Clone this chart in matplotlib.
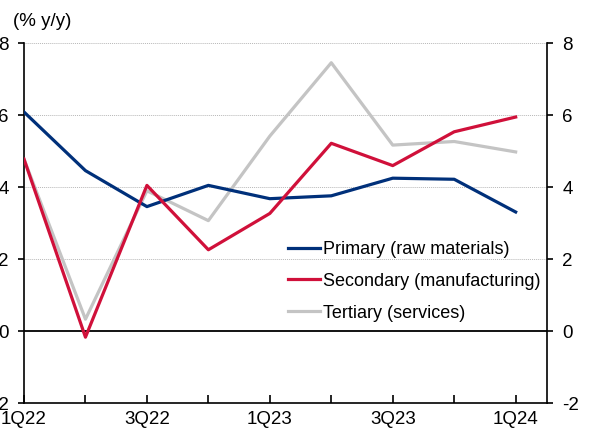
import matplotlib
matplotlib.use("Agg")
import matplotlib.pyplot as plt
import numpy as np

plt.rcParams['font.family'] = ['Liberation Sans', 'DejaVu Sans']
plt.rcParams['axes.unicode_minus'] = False

quarters = ['1Q22', '2Q22', '3Q22', '4Q22', '1Q23', '2Q23', '3Q23', '4Q23', '1Q24']
primary = [6.09, 4.46, 3.46, 4.05, 3.68, 3.76, 4.25, 4.22, 3.31]
secondary = [4.78, -0.17, 4.05, 2.26, 3.27, 5.22, 4.60, 5.54, 5.95]
tertiary = [4.78, 0.33, 3.90, 3.07, 5.42, 7.46, 5.17, 5.27, 4.98]

x = np.arange(len(quarters))

fig = plt.figure(figsize=(5.89, 4.34), dpi=100)
ax = fig.add_axes([24/589, 1-403/434, (547-24)/589, (403-43.3)/434])

# dotted grid, solid zero line
for yv in [2, 4, 6, 8]:
    ax.axhline(yv, color='#b8b8b8', lw=0.7, ls=(0, (1, 1)), zorder=0)
ax.axhline(0, color='black', lw=1.3, zorder=1)

ax.plot(x, primary, color='#00307a', lw=2.3, label='Primary (raw materials)', zorder=3)
ax.plot(x, secondary, color='#d0103a', lw=2.3, label='Secondary (manufacturing)', zorder=3)
ax.plot(x, tertiary, color='#c4c4c4', lw=2.3, label='Tertiary (services)', zorder=2)

ax.set_xlim(0, 8.51)
ax.set_ylim(-2, 8)
ax.set_yticks(range(-2, 9, 2))
ax.set_xticks(x)
ax.set_xticklabels([q if i % 2 == 0 else '' for i, q in enumerate(quarters)])

ax.spines['top'].set_visible(False)
for s in ['left', 'right', 'bottom']:
    ax.spines[s].set_linewidth(1.2)

ax.tick_params(axis='x', direction='in', length=6, width=1.2, pad=6, labelsize=13.5)
ax.tick_params(axis='y', direction='out', length=4, width=1.2, pad=7, labelsize=13.5,
               left=True, right=True, labelleft=True, labelright=True)

fig.text(13/589, 1-22/434, '(% y/y)', fontsize=13.5, va='center', ha='left')

ax.legend(loc='upper left', bbox_to_anchor=(288/589, 1-241/434), bbox_transform=fig.transFigure,
          frameon=False, fontsize=13, handlelength=1.78, handletextpad=0.17,
          labelspacing=0.82, borderpad=0, borderaxespad=0)

fig.savefig('out.png', dpi=100)
